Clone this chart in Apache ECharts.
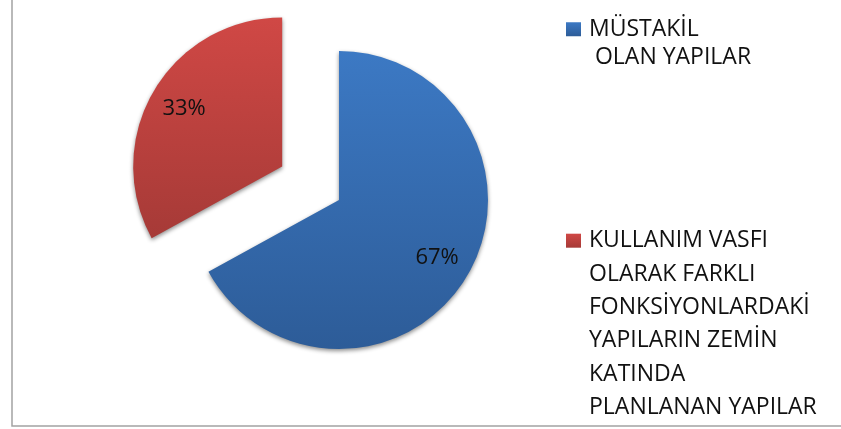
<!DOCTYPE html>
<html>
<head>
<meta charset="utf-8">
<script src="https://cdn.jsdelivr.net/npm/echarts@6/dist/echarts.min.js"></script>
<style>
  html, body { margin: 0; padding: 0; background: #ffffff; }
  #chart { width: 841px; height: 429px; }
</style>
</head>
<body>
<div id="chart"></div>
<script>
// Category names (line breaks as they appear in the legend)
const categories = [
  'MÜSTAKİL\n OLAN YAPILAR',
  'KULLANIM VASFI\nOLARAK FARKLI\nFONKSİYONLARDAKİ\nYAPILARIN ZEMİN\nKATINDA\nPLANLANAN YAPILAR'
];
// Share of each category, in percent
const shares = [67, 33];
// The second category is pulled out of the pie
const exploded = [false, true];

const FONT = '"Open Sans", "Noto Sans", sans-serif';

const fills = [
  new echarts.graphic.LinearGradient(0, 0, 0, 1, [
    { offset: 0, color: '#3c79c4' },
    { offset: 1, color: '#2d5c98' }
  ]),
  new echarts.graphic.LinearGradient(0, 0, 0, 1, [
    { offset: 0, color: '#d04845' },
    { offset: 1, color: '#a63a37' }
  ])
];

const center = [339, 200];
const R = 149;
const OFFSET = 66;

const pieData = categories.map((name, i) => ({
  name: name,
  value: shares[i],
  selected: exploded[i],
  itemStyle: { color: fills[i] }
}));

const labelData = categories.map((name, i) => ({
  name: name,
  value: shares[i],
  selected: exploded[i]
}));

// Legend entry whose first text line sits level with the marker:
// blank lines above balance the extra lines below.
function legendFor(name, top, lineH) {
  const lines = name.split('\n').length;
  return {
    data: [name],
    orient: 'vertical',
    left: 566,
    top: top,
    padding: 0,
    itemWidth: 15,
    itemHeight: 14,
    icon: 'rect',
    selectedMode: false,
    formatter: (n) => '\n'.repeat(lines - 1) + n,
    textStyle: {
      fontFamily: FONT,
      fontSize: 23,
      color: '#111111',
      lineHeight: lineH,
      padding: [0, 0, 0, 3]
    }
  };
}

const chart = echarts.init(document.getElementById('chart'), null, { renderer: 'canvas' });
chart.setOption({
  animation: false,
  backgroundColor: '#ffffff',
  legend: [
    legendFor(categories[0], -13.5, 28.5),
    legendFor(categories[1], 57, 33.4)
  ],
  graphic: [{
    type: 'rect',
    shape: { x: 12, y: -5, width: 840, height: 431 },
    style: { fill: 'none', stroke: '#a3a3a3', lineWidth: 1.5 },
    silent: true
  }],
  series: [
    {
      type: 'pie',
      center: center,
      radius: [0, R],
      startAngle: 90,
      clockwise: true,
      selectedMode: 'single',
      selectedOffset: OFFSET,
      avoidLabelOverlap: false,
      label: { show: false },
      labelLine: { show: false },
      itemStyle: {
        borderWidth: 0,
        shadowColor: 'rgba(0,0,0,0.45)',
        shadowBlur: 4,
        shadowOffsetX: 0,
        shadowOffsetY: 2
      },
      emphasis: { disabled: true },
      data: pieData
    },
    {
      // Percentage labels, placed about three quarters of the way out
      type: 'pie',
      center: center,
      radius: [73, R],
      startAngle: 90,
      clockwise: true,
      silent: true,
      selectedMode: 'single',
      selectedOffset: OFFSET,
      avoidLabelOverlap: false,
      itemStyle: { color: 'rgba(0,0,0,0)', borderWidth: 0 },
      label: {
        show: true,
        position: 'inside',
        formatter: '{d}%',
        fontFamily: FONT,
        fontSize: 22,
        color: '#111111'
      },
      labelLine: { show: false },
      emphasis: { disabled: true },
      data: labelData
    }
  ]
});
</script>
</body>
</html>
